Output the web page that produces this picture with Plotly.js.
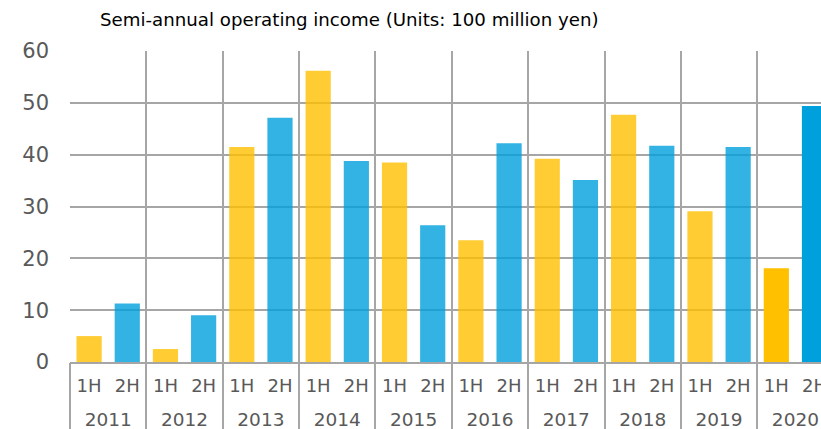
<!DOCTYPE html>
<html>
<head>
<meta charset="utf-8">
<script src="https://cdn.plot.ly/plotly-3.0.1.min.js"></script>
<style>
html,body{margin:0;padding:0;overflow:hidden;background:#fff;}
#chart{width:821px;height:429px;}
</style>
</head>
<body>
<div id="chart"></div>
<script>
const years = ['2011','2011','2012','2012','2013','2013','2014','2014','2015','2015',
               '2016','2016','2017','2017','2018','2018','2019','2019','2020','2020'];
const halves = ['1H','2H','1H','2H','1H','2H','1H','2H','1H','2H',
                '1H','2H','1H','2H','1H','2H','1H','2H','1H','2H'];
const income = [5.0, 11.3, 2.5, 9.0, 41.5, 47.1, 56.2, 38.8, 38.5, 26.4,
                23.5, 42.2, 39.2, 35.1, 47.7, 41.7, 29.1, 41.5, 18.1, 49.4];
const yTicks = [0, 10, 20, 30, 40, 50, 60];
const titleText = 'Semi-annual operating income (Units: 100 million yen)';
const latestYear = '2020';

// derived helpers
const cats = years.map((y, i) => y + ' ' + halves[i]);
const yearList = [...new Set(years)];
const yearCenters = yearList.map(y => {
  const idx = years.map((v, i) => v === y ? i : -1).filter(i => i >= 0);
  return (idx[0] + idx[idx.length - 1]) / 2;
});
const yearBounds = yearList.map(y => years.indexOf(y) - 0.5);

const colors = halves.map((h, i) => {
  const strong = years[i] === latestYear;
  if (h === '1H') return strong ? 'rgb(255,192,0)' : 'rgba(255,192,0,0.8)';
  return strong ? 'rgb(0,160,220)' : 'rgba(0,160,220,0.8)';
});

const nCat = halves.length;
const gridC = '#A6A6A6';
const font = 'DejaVu Sans, Verdana, sans-serif';
const xEnd = nCat - 0.5 - 0.33;

const data = [{
  type: 'bar',
  x: cats,
  y: income,
  marker: {color: colors, line: {width: 0}},
  hoverinfo: 'skip'
}, {
  type: 'scatter',
  x: [yearCenters[0]],
  y: [0],
  xaxis: 'x2',
  mode: 'markers',
  marker: {opacity: 0},
  hoverinfo: 'skip',
  showlegend: false
}];

const layout = {
  width: 821, height: 429,
  margin: {l: 70, r: 0, t: 51, b: 67},
  paper_bgcolor: '#fff', plot_bgcolor: '#fff',
  showlegend: false,
  bargap: 0.34,
  font: {family: font, color: '#595959', size: 18},
  title: {
    text: titleText,
    font: {family: font, size: 18.2, color: '#000'},
    xref: 'container', yref: 'container',
    x: 100/821, xanchor: 'left',
    y: 1 - 20/429, yanchor: 'middle'
  },
  xaxis: {
    type: 'category',
    range: [-0.5, xEnd],
    tickmode: 'array', tickvals: cats, ticktext: halves,
    showgrid: false,
    showline: true, linecolor: gridC, linewidth: 2,
    ticks: '',
    ticklabelstandoff: 6,
    tickfont: {family: font, size: 18, color: '#595959'},
    zeroline: false
  },
  xaxis2: {
    overlaying: 'x', anchor: 'y', side: 'bottom', type: 'linear',
    range: [-0.5, xEnd],
    tickmode: 'array', tickvals: yearCenters, ticktext: yearList,
    showgrid: false,
    ticks: '',
    ticklabelstandoff: 44,
    tickfont: {family: font, size: 18.5, color: '#595959'},
    zeroline: false, showline: false,
    minor: {
      tickmode: 'array', tickvals: yearBounds,
      ticks: 'outside', ticklen: 70, tickwidth: 2, tickcolor: gridC,
      showgrid: true, gridcolor: gridC, gridwidth: 2
    }
  },
  yaxis: {
    range: [0, 60],
    tickvals: yTicks,
    showgrid: true, gridcolor: gridC, gridwidth: 2,
    zeroline: false, showline: false, ticks: '',
    ticklabelstandoff: 20,
    tickfont: {family: font, size: 21, color: '#595959'}
  }
};

Plotly.newPlot('chart', data, layout, {displayModeBar: false, staticPlot: true});
</script>
</body>
</html>
